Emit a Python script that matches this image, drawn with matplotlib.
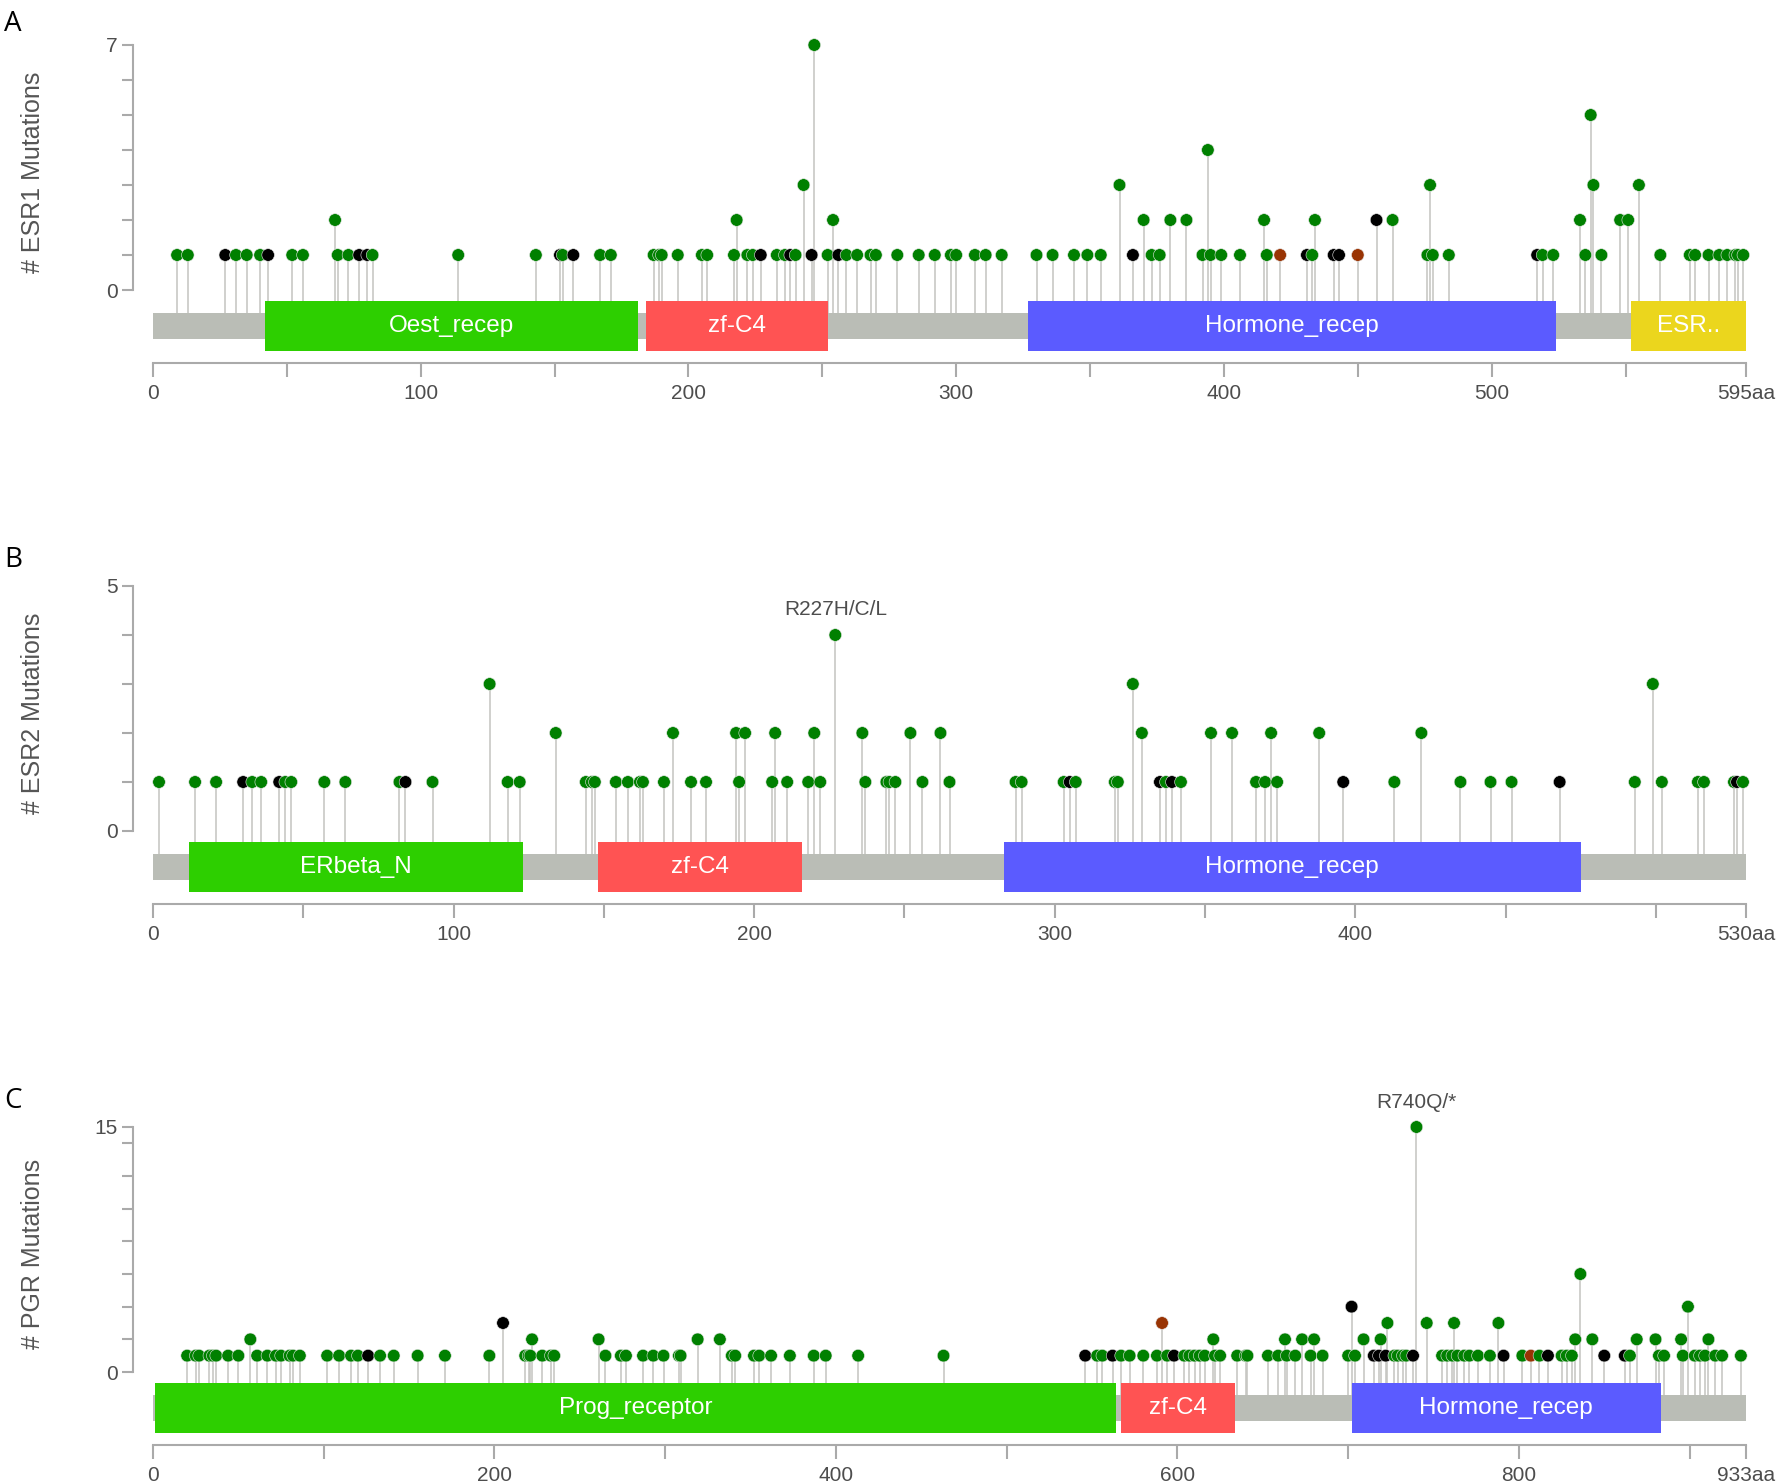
import matplotlib
matplotlib.use('Agg')
import matplotlib.pyplot as plt
from matplotlib.patches import Rectangle

plt.rcParams['font.family'] = ['Liberation Sans', 'DejaVu Sans']

# mutation type colours (missense / truncating / inframe)
kind_col = {'M': '#008000', 'T': '#000000', 'I': '#993404'}

# ---------------- ESR1 ----------------
esr1_len = 595
esr1_pos = [9, 13, 27, 31, 35, 40, 43, 52, 56, 68, 69, 73, 77, 80, 82, 114, 143, 152, 153, 157, 167, 171,
            187, 189, 190, 196, 205, 207, 217, 218, 222, 224, 227, 233, 236, 238, 240, 243, 246, 247, 252,
            254, 256, 259, 263, 268, 270, 278, 286, 292, 298, 300, 307, 311, 317, 330, 336, 344, 349, 354,
            361, 366, 370, 373, 376, 380, 386, 392, 394, 395, 399, 406, 415, 416, 421, 431, 433, 434, 441,
            443, 450, 457, 463, 476, 477, 478, 484, 517, 519, 523, 533, 535, 537, 538, 541, 548, 551, 555,
            563, 574, 576, 581, 585, 588, 591, 592, 594]
esr1_cnt = [1, 1, 1, 1, 1, 1, 1, 1, 1, 2, 1, 1, 1, 1, 1, 1, 1, 1, 1, 1, 1, 1,
            1, 1, 1, 1, 1, 1, 1, 2, 1, 1, 1, 1, 1, 1, 1, 3, 1, 7, 1,
            2, 1, 1, 1, 1, 1, 1, 1, 1, 1, 1, 1, 1, 1, 1, 1, 1, 1, 1,
            3, 1, 2, 1, 1, 2, 2, 1, 4, 1, 1, 1, 2, 1, 1, 1, 1, 2, 1,
            1, 1, 2, 2, 1, 3, 1, 1, 1, 1, 1, 2, 1, 5, 3, 1, 2, 2, 3,
            1, 1, 1, 1, 1, 1, 1, 1, 1]
esr1_kind = ['M', 'M', 'T', 'M', 'M', 'M', 'T', 'M', 'M', 'M', 'M', 'M', 'T', 'T', 'M', 'M', 'M', 'T', 'M', 'T', 'M', 'M',
             'M', 'M', 'M', 'M', 'M', 'M', 'M', 'M', 'M', 'M', 'T', 'M', 'M', 'T', 'M', 'M', 'T', 'M', 'M',
             'M', 'T', 'M', 'M', 'M', 'M', 'M', 'M', 'M', 'M', 'M', 'M', 'M', 'M', 'M', 'M', 'M', 'M', 'M',
             'M', 'T', 'M', 'M', 'M', 'M', 'M', 'M', 'M', 'M', 'M', 'M', 'M', 'M', 'I', 'T', 'M', 'M', 'T',
             'T', 'I', 'T', 'M', 'M', 'M', 'M', 'M', 'T', 'M', 'M', 'M', 'M', 'M', 'M', 'M', 'M', 'M', 'M',
             'M', 'M', 'M', 'M', 'M', 'M', 'M', 'M', 'M']
esr1_dom_name = ['Oest_recep', 'zf-C4', 'Hormone_recep', 'ESR..']
esr1_dom_start = [42, 184, 327, 552]
esr1_dom_end = [181, 252, 524, 595]
esr1_dom_col = ['#2dcf00', '#ff5353', '#5b5bff', '#ebd61d']

# ---------------- ESR2 ----------------
esr2_len = 530
esr2_pos = [2, 14, 21, 30, 33, 36, 42, 44, 46, 57, 64, 82, 84, 93, 112, 118, 122, 134, 144, 146, 147,
            154, 158, 162, 163, 170, 173, 179, 184, 194, 195, 197, 206, 207, 211, 218, 220, 222, 227,
            236, 237, 244, 245, 247, 252, 256, 262, 265, 287, 289, 303, 305, 307, 320, 321, 326, 329,
            335, 337, 339, 342, 352, 359, 367, 370, 372, 374, 388, 396, 413, 422, 435, 445, 452, 468,
            493, 499, 502, 514, 516, 526, 527, 529]
esr2_cnt = [1, 1, 1, 1, 1, 1, 1, 1, 1, 1, 1, 1, 1, 1, 3, 1, 1, 2, 1, 1, 1,
            1, 1, 1, 1, 1, 2, 1, 1, 2, 1, 2, 1, 2, 1, 1, 2, 1, 4,
            2, 1, 1, 1, 1, 2, 1, 2, 1, 1, 1, 1, 1, 1, 1, 1, 3, 2,
            1, 1, 1, 1, 2, 2, 1, 1, 2, 1, 2, 1, 1, 2, 1, 1, 1, 1,
            1, 3, 1, 1, 1, 1, 1, 1]
esr2_kind = ['M', 'M', 'M', 'T', 'M', 'M', 'T', 'M', 'M', 'M', 'M', 'M', 'T', 'M', 'M', 'M', 'M', 'M', 'M', 'M', 'M',
             'M', 'M', 'M', 'M', 'M', 'M', 'M', 'M', 'M', 'M', 'M', 'M', 'M', 'M', 'M', 'M', 'M', 'M',
             'M', 'M', 'M', 'M', 'M', 'M', 'M', 'M', 'M', 'M', 'M', 'M', 'T', 'M', 'M', 'M', 'M', 'M',
             'T', 'M', 'T', 'M', 'M', 'M', 'M', 'M', 'M', 'M', 'M', 'T', 'M', 'M', 'M', 'M', 'M', 'T',
             'M', 'M', 'M', 'M', 'M', 'M', 'T', 'M']
esr2_dom_name = ['ERbeta_N', 'zf-C4', 'Hormone_recep']
esr2_dom_start = [12, 148, 283]
esr2_dom_end = [123, 216, 475]
esr2_dom_col = ['#2dcf00', '#ff5353', '#5b5bff']

# ---------------- PGR ----------------
pgr_len = 933
pgr_pos = [20, 25, 27, 33, 35, 37, 44, 50, 57, 61, 67, 72, 75, 80, 82, 86, 102, 109, 116, 120, 126, 133,
           141, 155, 171, 197, 205, 218, 220, 221, 222, 228, 233, 235, 261, 265, 274, 277, 287, 293, 299,
           308, 309, 319, 332, 339, 341, 352, 355, 362, 373, 387, 394, 413, 463,
           546, 553, 556, 562, 567, 572, 580, 588, 591, 594, 598, 604, 607, 610, 613, 616, 621, 622, 625,
           635, 640, 641, 653, 659, 663, 664, 669, 673, 678, 680, 685,
           700, 702, 704, 709, 715, 718, 719, 722, 723, 727, 729, 732, 734, 738, 740, 746, 755, 758, 761,
           762, 764, 768, 771, 776, 783, 788, 791, 802, 807, 812, 817, 825, 828, 831, 833, 836, 843, 850,
           862, 865, 869, 880, 882, 885, 895, 896, 899, 903, 906, 909, 911, 915, 919, 930]
pgr_cnt = [1, 1, 1, 1, 1, 1, 1, 1, 2, 1, 1, 1, 1, 1, 1, 1, 1, 1, 1, 1, 1, 1,
           1, 1, 1, 1, 3, 1, 1, 1, 2, 1, 1, 1, 2, 1, 1, 1, 1, 1, 1,
           1, 1, 2, 2, 1, 1, 1, 1, 1, 1, 1, 1, 1, 1,
           1, 1, 1, 1, 1, 1, 1, 1, 3, 1, 1, 1, 1, 1, 1, 1, 2, 1, 1,
           1, 1, 1, 1, 1, 2, 1, 1, 2, 1, 2, 1,
           1, 4, 1, 2, 1, 1, 2, 1, 3, 1, 1, 1, 1, 1, 15, 3, 1, 1, 1,
           3, 1, 1, 1, 1, 1, 3, 1, 1, 1, 1, 1, 1, 1, 1, 2, 6, 2, 1,
           1, 1, 2, 2, 1, 1, 2, 1, 4, 1, 1, 1, 2, 1, 1, 1]
pgr_kind = ['M', 'M', 'M', 'M', 'M', 'M', 'M', 'M', 'M', 'M', 'M', 'M', 'M', 'M', 'M', 'M', 'M', 'M', 'M', 'M', 'T', 'M',
            'M', 'M', 'M', 'M', 'T', 'M', 'M', 'M', 'M', 'M', 'M', 'M', 'M', 'M', 'M', 'M', 'M', 'M', 'M',
            'M', 'M', 'M', 'M', 'M', 'M', 'M', 'M', 'M', 'M', 'M', 'M', 'M', 'M',
            'T', 'M', 'M', 'T', 'M', 'M', 'M', 'M', 'I', 'M', 'T', 'M', 'M', 'M', 'M', 'M', 'M', 'M', 'M',
            'M', 'M', 'M', 'M', 'M', 'M', 'M', 'M', 'M', 'M', 'M', 'M',
            'M', 'T', 'M', 'M', 'T', 'T', 'M', 'T', 'M', 'M', 'M', 'M', 'M', 'T', 'M', 'M', 'M', 'M', 'M',
            'M', 'M', 'M', 'M', 'M', 'M', 'M', 'T', 'M', 'I', 'M', 'T', 'M', 'M', 'M', 'M', 'M', 'M', 'T',
            'T', 'M', 'M', 'M', 'M', 'M', 'M', 'M', 'M', 'M', 'M', 'M', 'M', 'M', 'M', 'M']
pgr_dom_name = ['Prog_receptor', 'zf-C4', 'Hormone_recep']
pgr_dom_start = [1, 567, 702]
pgr_dom_end = [564, 634, 883]
pgr_dom_col = ['#2dcf00', '#ff5353', '#5b5bff']

W, H = 1778, 1484
axis_c = '#aaaaaa'
text_c = '#4d4d4d'
track_c = '#babdb6'

fig = plt.figure(figsize=(W / 100, H / 100), dpi=100)


def plotPanel(axis_px, ymax, yticks, L, xstep, lstep, pos, cnt, kind,
              dnames, dstart, dend, dcol, gene, letter, letter_px, note=None):
    ax = fig.add_axes([153 / W, 1 - axis_px / H, (1746 - 153) / W, 318 / H])
    ppu = 245.0 / ymax          # pixels per mutation count
    ax.set_xlim(0, L)
    ax.set_ylim(-73 / ppu, ymax)

    # stems, backbone, domains, dots
    ax.vlines(pos, -23 / ppu, cnt, colors='#c4c4c0', lw=1.1, zorder=1)
    ax.add_patch(Rectangle((0, -49 / ppu), L, 26 / ppu, fc=track_c, ec='none', zorder=2))
    for n, s, e, c in zip(dnames, dstart, dend, dcol):
        ax.add_patch(Rectangle((s, -61 / ppu), e - s, 50 / ppu, fc=c, ec='none', zorder=3))
        ax.text((s + e) / 2, -36 / ppu, n, color='white', fontsize=17.5,
                ha='center', va='center', zorder=4)
    ax.scatter(pos, cnt, s=82, c=[kind_col[k] for k in kind], edgecolors='#e6e6e6',
               linewidths=0.4, zorder=5, clip_on=False)

    if note is not None:
        ax.annotate(note[0], (note[1], note[2]), xytext=(0, 18), textcoords='offset points',
                    ha='center', va='center', fontsize=15, color=text_c, annotation_clip=False)

    # axes look
    for s in ['top', 'right']:
        ax.spines[s].set_visible(False)
    ax.spines['left'].set_position(('outward', 14.4))
    ax.spines['left'].set_bounds(0, ymax)
    ax.spines['bottom'].set_bounds(0, L)
    for s in ['left', 'bottom']:
        ax.spines[s].set_color(axis_c)
        ax.spines[s].set_linewidth(1.5)

    ax.set_yticks(yticks)
    ax.set_yticklabels([str(t) if t in (0, ymax) else '' for t in yticks])
    xt = list(range(0, L, xstep))
    if L - xt[-1] < xstep * 0.3:
        xt = xt[:-1]
    xt.append(L)
    xl = [str(t) if (t % lstep == 0 and L - t > 60) else '' for t in xt[:-1]] + [str(L) + 'aa']
    ax.set_xticks(xt)
    ax.set_xticklabels(xl)
    ax.tick_params(axis='x', direction='out', length=10, width=1.5, color=axis_c,
                   labelsize=15, labelcolor=text_c, pad=5)
    ax.tick_params(axis='y', direction='out', length=8, width=1.5, color=axis_c,
                   labelsize=15, labelcolor=text_c, pad=3)

    ax.set_ylabel('# ' + gene + ' Mutations', fontsize=18, color='#555555')
    ax.yaxis.set_label_coords(-0.068, 0.60)

    fig.text(4 / W, 1 - letter_px / H, letter, fontsize=20, family=['Open Sans', 'DejaVu Sans'],
             ha='left', va='baseline', color='black')
    return ax


plotPanel(363, 7, list(range(0, 8)), esr1_len, 50, 100, esr1_pos, esr1_cnt, esr1_kind,
          esr1_dom_name, esr1_dom_start, esr1_dom_end, esr1_dom_col, 'ESR1', 'A', 31)
plotPanel(904, 5, list(range(0, 6)), esr2_len, 50, 100, esr2_pos, esr2_cnt, esr2_kind,
          esr2_dom_name, esr2_dom_start, esr2_dom_end, esr2_dom_col, 'ESR2', 'B', 567,
          note=('R227H/C/L', 227, 4))
plotPanel(1445, 15, [0, 2, 4, 6, 8, 10, 12, 14, 15], pgr_len, 100, 200, pgr_pos, pgr_cnt, pgr_kind,
          pgr_dom_name, pgr_dom_start, pgr_dom_end, pgr_dom_col, 'PGR', 'C', 1108,
          note=('R740Q/*', 740, 15))

plt.savefig('out.png', dpi=100)
